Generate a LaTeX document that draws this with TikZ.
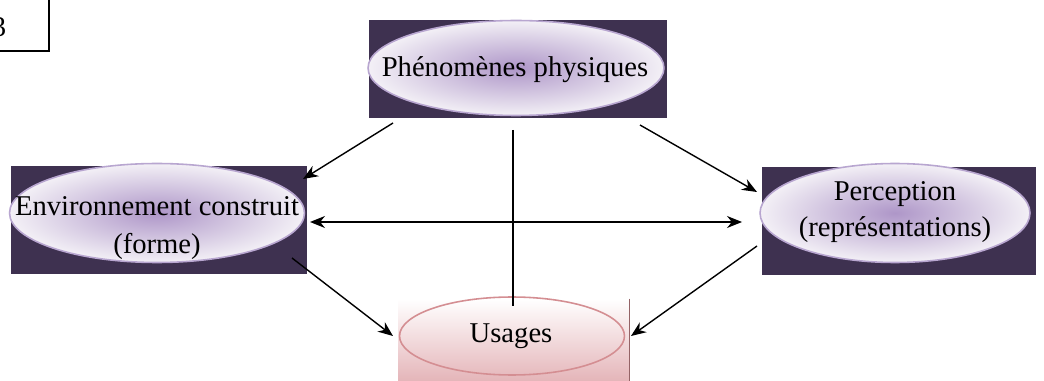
\documentclass[tikz,border=0pt]{standalone}
\usepackage{fontspec}
\setmainfont{Liberation Serif}
\usetikzlibrary{arrows.meta,shapes.geometric}
\definecolor{darkbg}{HTML}{3E3150}
\definecolor{lavin}{HTML}{AE96C8}
\definecolor{lavout}{HTML}{F3F0F6}
\definecolor{lavedge}{HTML}{B8A6D0}
\definecolor{pinkbot}{HTML}{E4B4B8}
\definecolor{pinkedge}{HTML}{D48E92}
\begin{document}
\begin{tikzpicture}[x=0.02cm,y=-0.02cm,
  bgbox/.style={draw=none,fill=darkbg,rectangle,inner sep=0pt},
  oval/.style={ellipse,draw=lavedge,line width=0.9pt,inner sep=0pt,
    inner color=lavin,outer color=lavout},
  ovaltext/.style={align=center,inner sep=0pt,font=\fontsize{16.3}{20}\selectfont},
  conn/.style={line width=0.8pt,black},
  arr/.style={conn,-{Stealth[length=3mm,width=2.4mm]}},
  darr/.style={conn,{Stealth[length=3mm,width=2.4mm]}-{Stealth[length=3mm,width=2.4mm]}}]
\useasboundingbox (0,0) rectangle (1044,381);
\fill[white] (0,0) rectangle (1044,381);
% partial corner box
\node[draw=none,inner sep=0pt,font=\fontsize{16.3}{20}\selectfont] (cornertxt) at (-1,27) {3};
\draw[line width=0.9pt] (-5,51) coordinate (cbl) -- (49,51) coordinate (cbr) -- (49,-5) coordinate (ctr);
% top
\node[bgbox,minimum width=5.96cm,minimum height=1.96cm] (toprect) at (518,69) {};
\node[oval,minimum width=5.92cm,minimum height=1.9cm] (phys) at (516,68) {};
\node[ovaltext] (physt) at (515,70) {Phénomènes physiques};
% left
\node[bgbox,minimum width=5.92cm,minimum height=2.16cm] (leftrect) at (159,220) {};
\node[oval,minimum width=5.9cm,minimum height=1.98cm] (env) at (157,213) {};
\node[ovaltext,font=\fontsize{16.3}{21.5}\selectfont] (envt) at (157,228) {Environnement construit\\(forme)};
% right
\node[bgbox,minimum width=5.5cm,minimum height=2.16cm] (rightrect) at (899,221) {};
\node[oval,minimum width=5.4cm,minimum height=1.98cm] (perc) at (895,213) {};
\node[ovaltext] (perct) at (895,212) {Perception\\(représentations)};
% bottom
\node[rectangle,draw=none,inner sep=0pt,minimum width=4.62cm,minimum height=1.66cm,
  top color=white,bottom color=pinkbot] (botrect) at (513.5,340.5) {};
\draw[line width=0.8pt,pinkedge!70!black] (botrect.north east) -- (botrect.south east);
\node[ellipse,draw=pinkedge,line width=0.9pt,inner sep=0pt,minimum width=4.5cm,minimum height=1.56cm] (usages) at (512,336) {};
\node[ovaltext] (usagest) at (511,336) {Usages};
% connector end points
\coordinate (a1s) at (393,123);
\coordinate (a1e) at (303,179);
\coordinate (a2s) at (640,125);
\coordinate (a2e) at (757,192);
\coordinate (a3s) at (310,222);
\coordinate (a3e) at (742,222);
\coordinate (a4s) at (513,130);
\coordinate (a4e) at (513,306);
\coordinate (a5s) at (292,258);
\coordinate (a5e) at (393,336);
\coordinate (a6s) at (757,246);
\coordinate (a6e) at (631,336);
\draw[arr] (a1s) -- (a1e);
\draw[arr] (a2s) -- (a2e);
\draw[darr] (a3s) -- (a3e);
\draw[conn] (a4s) -- (a4e);
\draw[arr] (a5s) -- (a5e);
\draw[arr] (a6s) -- (a6e);
\end{tikzpicture}
\end{document}
